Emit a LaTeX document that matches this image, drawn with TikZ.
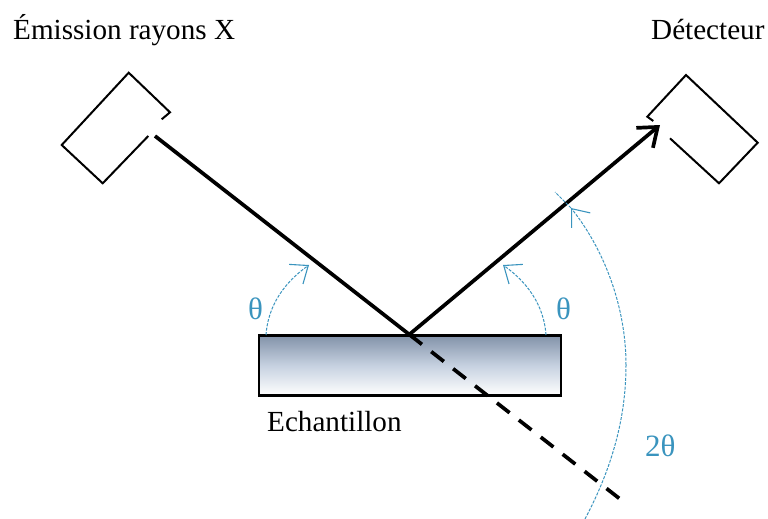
\documentclass[tikz,border=0pt]{standalone}
\usepackage{fontspec}
\setmainfont{Liberation Serif}
\usetikzlibrary{arrows.meta,shadings}
\definecolor{angleblue}{HTML}{3A94BE}
\definecolor{sampletop}{HTML}{8292A9}
\definecolor{samplemid}{HTML}{C6D1E0}
\definecolor{samplebot}{HTML}{FFFFFF}
\tikzset{
  label text/.style={font=\fontsize{29.15}{32}\selectfont,inner sep=0pt,anchor=base west,text=black},
  angle text/.style={font=\fontsize{31}{33}\selectfont,inner sep=0pt,anchor=base west,text=angleblue},
  housing/.style={draw=black,line width=2pt,line join=miter},
  beam/.style={draw=black,line width=3.7pt},
  anglearc/.style={draw=angleblue,line width=1pt,dash pattern=on 3pt off 1.4pt},
  barb/.style={-{Straight Barb[length=15pt,width=24pt,line width=1.1pt,color=angleblue]}},
}
\begin{document}
\begin{tikzpicture}[x=1pt,y=-1pt]
\useasboundingbox (0,0) rectangle (768,519);
% sample
\node[draw=black,line width=2.4pt,minimum width=302pt,minimum height=60pt,inner sep=0pt,
      top color=sampletop,bottom color=samplebot,middle color=samplemid,anchor=north west] (sample) at (258,334.2) {};
% anchor points
\coordinate (hit) at (409.3,334.5);
\coordinate (srcout) at (155,136);
\coordinate (dettip) at (660,125);
\coordinate (dashend) at (620,499);
\coordinate (arcLs) at (266,335);
\coordinate (arcLe) at (309,265);
\coordinate (arcRs) at (546,335);
\coordinate (arcRe) at (503,265);
\coordinate (bigs) at (585,519);
\coordinate (bigm) at (626,365);
\coordinate (bige) at (571,208);
\coordinate (bigx) at (555,192);
% housings
\draw[housing] (161.7,119.3) -- (170,112.3) -- (128.7,72.7) -- (61.7,145) -- (102.7,183.3) -- (148.3,136);
\draw[housing] (653.3,121) -- (647.3,116.7) -- (686,75) -- (757.7,142.7) -- (719,183.3) -- (670,138.3);
% beams
\draw[beam] (srcout) -- (hit);
\draw[beam,-{Straight Barb[length=17pt,width=26pt,line width=3.7pt]}] (hit) -- (dettip);
\draw[beam,dash pattern=on 16pt off 11.8pt] (hit) -- (dashend);
% angles
\draw[anglearc,barb] (arcLs) .. controls (268,305) and (285,282) .. (arcLe);
\draw[anglearc,barb] (arcRs) .. controls (544,305) and (527,282) .. (arcRe);
\draw[anglearc] (bigs) .. controls (612,468) and (626,418) .. (bigm);
\draw[anglearc,barb] (bigm) .. controls (626,305) and (603,248) .. (bige);
\draw[anglearc] (bige) -- (bigx);
% labels
\node[label text] (src) at (13,40) {Émission rayons X};
\node[label text] (det) at (651,40) {Détecteur};
\node[label text] (ech) at (267,431) {Echantillon};
\node[angle text] (thL) at (248,319) {θ};
\node[angle text] (thR) at (556,319) {θ};
\node[angle text] (tt) at (645,456) {2θ};
\end{tikzpicture}
\end{document}
